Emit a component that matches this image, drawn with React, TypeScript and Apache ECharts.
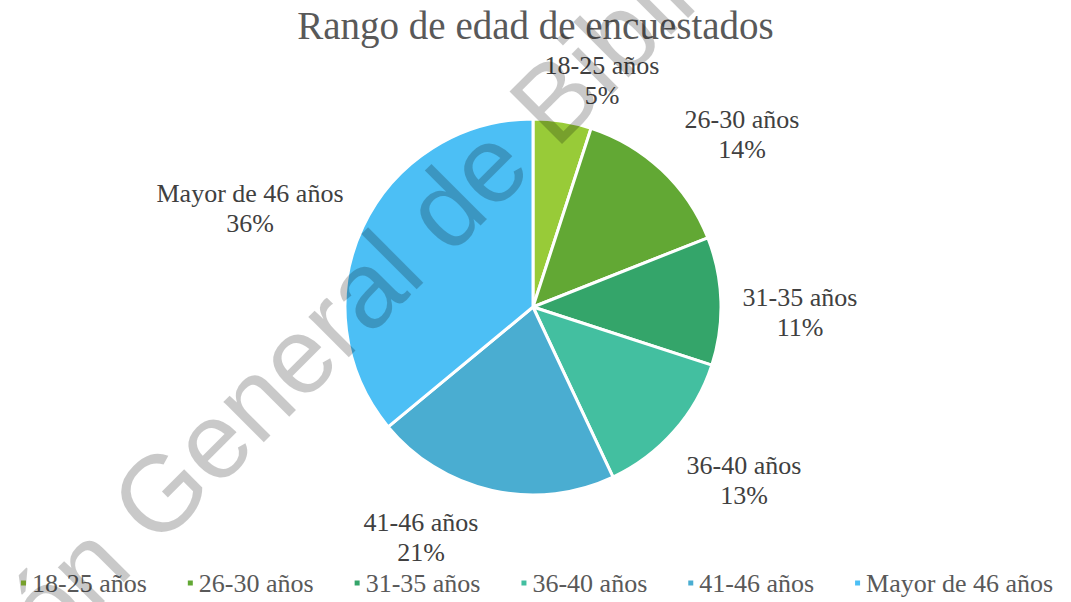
import React, { useEffect, useRef } from "react";
import * as echarts from "echarts";

const TITLE = "Rango de edad de encuestados";
const CATEGORIES = ["18-25 años", "26-30 años", "31-35 años", "36-40 años", "41-46 años", "Mayor de 46 años"];
const VALUES = [5, 14, 11, 13, 21, 36];
const COLORS = ["#98CB38", "#62A834", "#34A56A", "#43BFA0", "#4AADD1", "#4CBFF5"];
const WATERMARK = "Dirección General de Bibliotecas";

// layout (pixel offsets of each label centre from the pie centre)
const CENTER = [533, 307];
const RADIUS = 188;
const LABEL_OFFSETS = [
  [69, -227],
  [209, -173],
  [267, 5],
  [211, 173],
  [-112, 230],
  [-283, -99],
];

const SERIF = "Liberation Serif, Times New Roman, serif";

export default function App() {
  const ref = useRef<HTMLDivElement>(null);
  useEffect(() => {
    if (!ref.current) return;
    const chart = echarts.init(ref.current, null, { renderer: "svg" });
    const data = CATEGORIES.map((name, i) => ({
      name,
      value: VALUES[i],
      itemStyle: { color: COLORS[i] },
    }));
    const ang = Math.PI / 4;
    const gx = 160, gy = 493;
    const startOffset = 4.834 * 108;
    chart.setOption({
      animation: false,
      backgroundColor: "#ffffff",
      title: {
        text: TITLE,
        left: "center",
        top: 6,
        padding: 0,
        textStyle: { fontFamily: SERIF, fontSize: 39, fontWeight: "normal", color: "#595959" },
      },
      legend: {
        bottom: 6,
        left: 19,
        padding: 0,
        icon: "rect",
        itemWidth: 7,
        itemHeight: 7,
        itemGap: 39,
        textStyle: { fontFamily: SERIF, fontSize: 26, fontWeight: "normal", color: "#595959" },
        data: CATEGORIES,
      },
      series: [
        {
          type: "pie",
          center: [CENTER[0], CENTER[1]],
          radius: RADIUS,
          startAngle: 90,
          clockwise: true,
          data,
          itemStyle: { borderColor: "#ffffff", borderWidth: 3 },
          label: {
            show: true,
            position: "outside",
            formatter: "{b}\n{d}%",
            fontFamily: SERIF,
            fontSize: 26,
            fontWeight: "normal",
            lineHeight: 30,
            color: "#404040",
            align: "center",
          },
          labelLine: { show: false },
          labelLayout: (params: any) => {
            const o = LABEL_OFFSETS[params.dataIndex];
            return {
              x: CENTER[0] + o[0],
              y: CENTER[1] + o[1],
              align: "center",
              verticalAlign: "middle",
            };
          },
          emphasis: { disabled: true },
        },
      ],
      graphic: [
        {
          type: "text",
          z: 10,
          silent: true,
          x: gx - startOffset * Math.cos(ang),
          y: gy + startOffset * Math.sin(ang),
          rotation: ang,
          style: {
            text: WATERMARK,
            font: "108px 'Liberation Sans', Arial, sans-serif",
            fill: "rgba(0,0,0,0.21)",
            textAlign: "left",
            textVerticalAlign: "middle",
          },
        },
      ],
    });
    return () => chart.dispose();
  }, []);
  return (
    <div
      ref={ref}
      style={{ position: "fixed", left: 0, top: 0, width: 1071, height: 602 }}
    />
  );
}
